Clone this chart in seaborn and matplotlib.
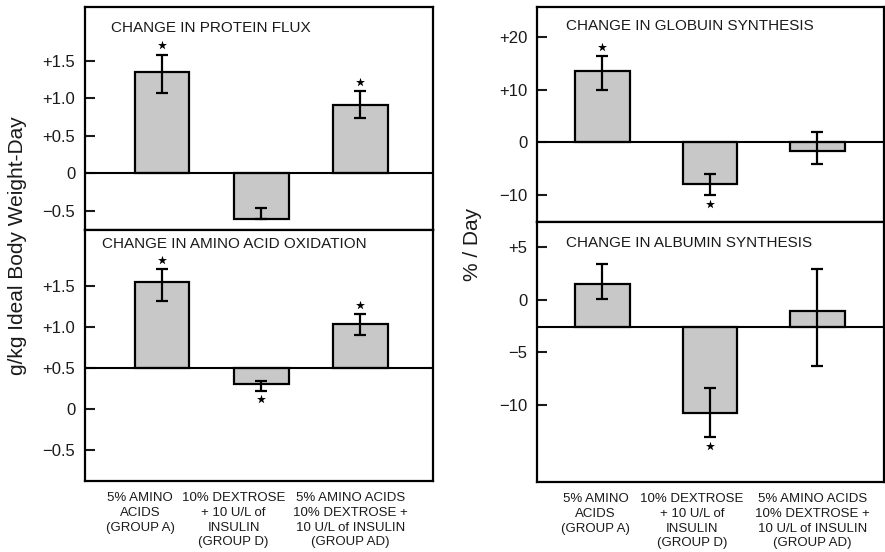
import numpy as np
import pandas as pd
import seaborn as sb
import matplotlib
matplotlib.use("Agg")
import matplotlib.pyplot as plt

# groups (same for every panel)
groups = ["A", "D", "AD"]
group_labels = ["5% AMINO\nACIDS\n(GROUP A)",
                "10% DEXTROSE\n+ 10 U/L of\nINSULIN\n(GROUP D)",
                "5% AMINO ACIDS\n10% DEXTROSE +\n10 U/L of INSULIN\n(GROUP AD)"]

# change in protein flux (g/kg ideal body weight-day), baseline 0
flux_vals = [1.345, -0.61, 0.915]
flux_hi = [1.58, -0.46, 1.10]
flux_lo = [1.077, -0.61, 0.74]
flux_star = [1.706, np.nan, 1.22]

# change in amino acid oxidation, drawn from the +0.5 line
oxid_vals = [1.545, 0.30, 1.037]
oxid_hi = [1.71, 0.34, 1.155]
oxid_lo = [1.32, 0.22, 0.905]
oxid_star = [1.81, 0.118, 1.27]

# change in globulin synthesis (% / day), baseline 0
glob_vals = [13.5, -7.8, -1.6]
glob_hi = [16.4, -6.0, 1.9]
glob_lo = [9.9, -10.0, -4.1]
glob_star = [18.1, -11.7, np.nan]

# change in albumin synthesis, drawn from the -2.6 line
alb_vals = [1.52, -10.77, -1.05]
alb_hi = [3.36, -8.4, 2.92]
alb_lo = [0.03, -13.05, -6.3]
alb_star = [np.nan, -13.9, np.nan]

sb.set_theme(style="ticks")
plt.rcParams['font.family'] = ['Liberation Sans', 'DejaVu Sans']
plt.rcParams['text.color'] = '#1a1a1a'
plt.rcParams['xtick.color'] = '#1a1a1a'
plt.rcParams['ytick.color'] = '#1a1a1a'

fig = plt.figure(figsize=(8.85, 5.52), dpi=100)

W, H = 885.0, 552.0
def box(x0, y0, x1, y1):
    return [x0 / W, 1 - y1 / H, (x1 - x0) / W, (y1 - y0) / H]

panels = [
    dict(rect=box(85, 7, 433, 230), title="CHANGE IN PROTEIN FLUX",
         vals=flux_vals, hi=flux_hi, lo=flux_lo, star=flux_star, base=0.0,
         ylim=(-0.76, 2.22), ticks=[1.5, 1.0, 0.5, 0, -0.5],
         tlabels=["+1.5", "+1.0", "+0.5", "0", "\u22120.5"],
         xlim=(-0.778, 2.737), width=0.555, tpos=(0.075, 0.905), bottom=False),
    dict(rect=box(85, 230, 433, 480.7), title="CHANGE IN AMINO ACID OXIDATION",
         vals=oxid_vals, hi=oxid_hi, lo=oxid_lo, star=oxid_star, base=0.5,
         ylim=(-0.875, 2.18), ticks=[1.5, 1.0, 0.5, 0, -0.5],
         tlabels=["+1.5", "+1.0", "+0.5", "0", "\u22120.5"],
         xlim=(-0.778, 2.737), width=0.555, tpos=(0.049, 0.944), bottom=True,
         lpos=[-0.222, 0.722, 1.90]),
    dict(rect=box(537, 7, 884, 222), title="CHANGE IN GLOBUIN SYNTHESIS",
         vals=glob_vals, hi=glob_hi, lo=glob_lo, star=glob_star, base=0.0,
         ylim=(-15.1, 25.7), ticks=[20, 10, 0, -10],
         tlabels=["+20", "+10", "0", "\u221210"],
         xlim=(-0.609, 2.619), width=0.51, tpos=(0.083, 0.912), bottom=False),
    dict(rect=box(537, 222, 884, 481.7), title="CHANGE IN ALBUMIN SYNTHESIS",
         vals=alb_vals, hi=alb_hi, lo=alb_lo, star=alb_star, base=-2.63,
         ylim=(-17.3, 7.4), ticks=[5, 0, -5, -10],
         tlabels=["+5", "0", "\u22125", "\u221210"],
         xlim=(-0.609, 2.619), width=0.51, tpos=(0.083, 0.92), bottom=True,
         lpos=[-0.065, 0.833, 1.953]),
]

for p in panels:
    ax = fig.add_axes(p["rect"])
    vals = np.array(p["vals"])
    df = pd.DataFrame({"group": groups, "height": vals - p["base"]})
    sb.barplot(data=df, x="group", y="height", order=groups, ax=ax,
               color="#c8c8c8", saturation=1, width=p["width"],
               edgecolor="black", linewidth=1.6, errorbar=None,
               bottom=p["base"], zorder=2)
    hi = np.array(p["hi"]); lo = np.array(p["lo"])
    mid = (hi + lo) / 2
    ax.errorbar(np.arange(3), mid, yerr=(hi - lo) / 2, fmt="none",
                ecolor="black", elinewidth=1.6, capsize=4, capthick=1.6, zorder=4)
    ax.scatter(np.arange(3), p["star"], marker="*", s=46, color="black",
               linewidths=0, zorder=5)
    ax.axhline(p["base"], color="black", lw=1.5, zorder=3)
    ax.set_xlim(*p["xlim"])
    ax.set_ylim(*p["ylim"])
    ax.set_yticks(p["ticks"])
    ax.set_yticklabels(p["tlabels"], fontsize=12)
    ax.tick_params(axis="y", direction="in", length=7, width=1.5, pad=7)
    ax.set_xlabel("")
    ax.set_ylabel("")
    if p["bottom"]:
        ax.set_xticks(p["lpos"])
        ax.set_xticklabels(group_labels, fontsize=9.5, linespacing=1.32)
        ax.tick_params(axis="x", length=0, pad=8)
    else:
        ax.set_xticks([])
    for s in ax.spines.values():
        s.set_visible(True)
        s.set_linewidth(1.6)
        s.set_color("black")
    ax.text(p["tpos"][0], p["tpos"][1], p["title"], transform=ax.transAxes,
            fontsize=11, ha="left", va="center")

fig.text(18 / W, 1 - 246 / H, "g/kg Ideal Body Weight-Day", rotation=90,
         fontsize=15, ha="center", va="center")
fig.text(472 / W, 1 - 244 / H, "% / Day", rotation=90,
         fontsize=15, ha="center", va="center")

fig.savefig("out.png", dpi=100)
